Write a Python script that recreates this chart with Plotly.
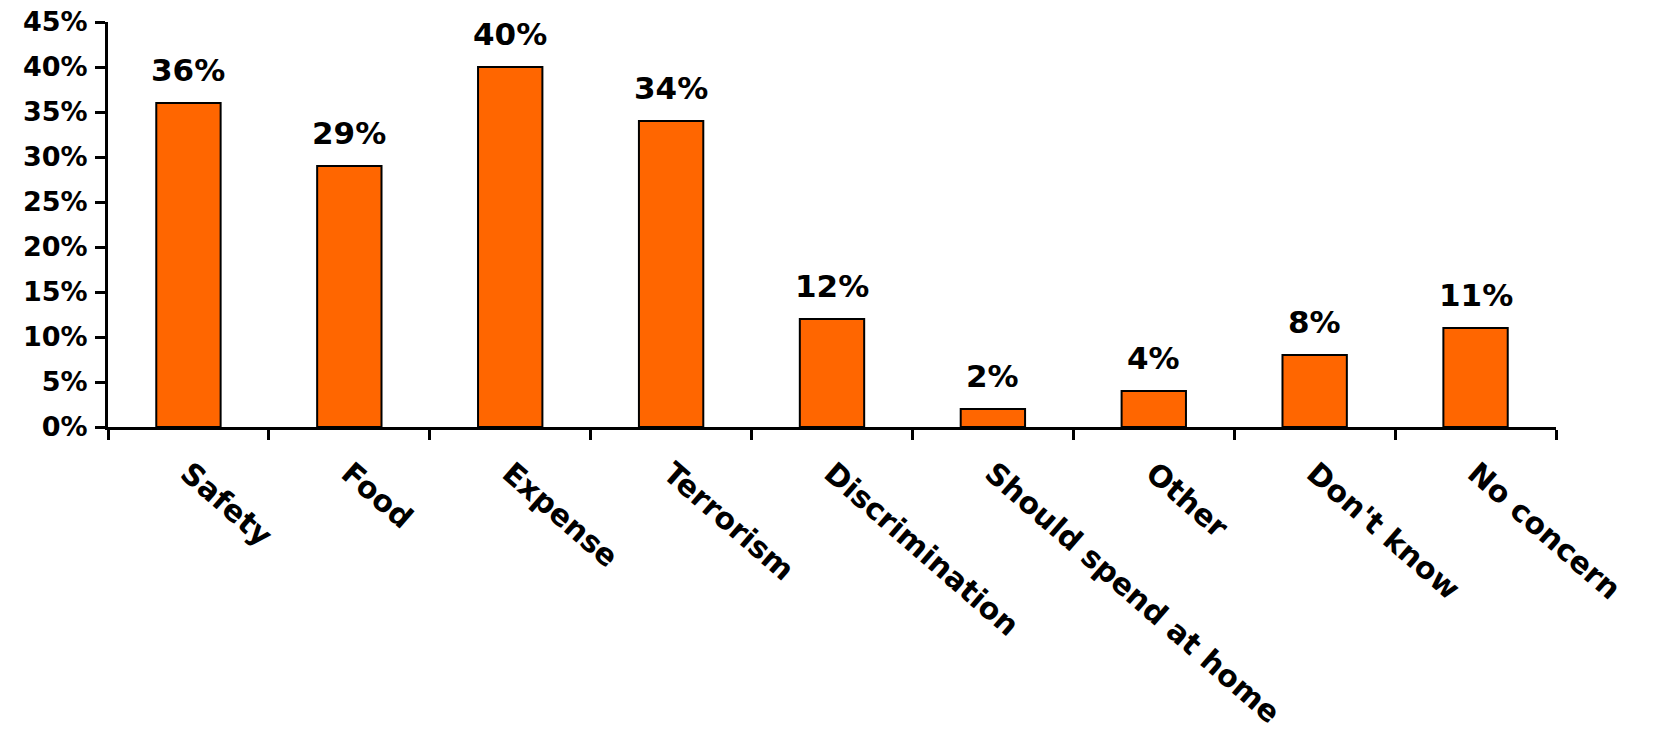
"""
Concerns about travelling abroad: bar chart of share of respondents.
"""

import plotly.graph_objects as go

categories = [
    "Safety", "Food", "Expense", "Terrorism", "Discrimination",
    "Should spend at home", "Other", "Don't know", "No concern",
]
shares = [36, 29, 40, 34, 12, 2, 4, 8, 11]
y_ticks = [0, 5, 10, 15, 20, 25, 30, 35, 40, 45]

FONT = "DejaVu Sans"
ORANGE = "#FF6600"

fig = go.Figure()
fig.add_trace(
    go.Bar(
        x=categories,
        y=shares,
        marker=dict(color=ORANGE, line=dict(color="black", width=2)),
        width=0.4,
        hoverinfo="skip",
    )
)

# value labels above the bars
for cat, val in zip(categories, shares):
    fig.add_annotation(
        x=cat, y=val, text=f"<b>{val}%</b>",
        showarrow=False, yanchor="bottom", yshift=13,
        font=dict(family=FONT, size=31, color="black"),
    )

fig.update_layout(
    width=1656,
    height=739,
    margin=dict(l=100, r=108, t=14, b=320),
    plot_bgcolor="white",
    paper_bgcolor="white",
    showlegend=False,
    font=dict(family=FONT, color="black"),
)
fig.update_xaxes(
    showline=True, linewidth=3, linecolor="black",
    ticks="outside", ticklen=10, tickwidth=3, tickcolor="black",
    tickson="boundaries",
    tickangle=41,
    ticklabelstandoff=14,
    ticklabeloverflow="allow",
    tickfont=dict(family=FONT, size=30, color="black", weight="bold"),
    automargin=False,
    range=[-0.5, len(categories) - 0.5],
)
fig.update_yaxes(
    range=[0, 45],
    tickvals=y_ticks,
    ticktext=[f"{v}%" for v in y_ticks],
    showline=True, linewidth=3, linecolor="black",
    ticks="outside", ticklen=10, tickwidth=3, tickcolor="black",
    showgrid=False, zeroline=False,
    ticklabelstandoff=2,
    ticklabeloverflow="allow",
    tickfont=dict(family=FONT, size=27, color="black", weight="bold"),
    automargin=False,
)

fig.write_html("out.html")
